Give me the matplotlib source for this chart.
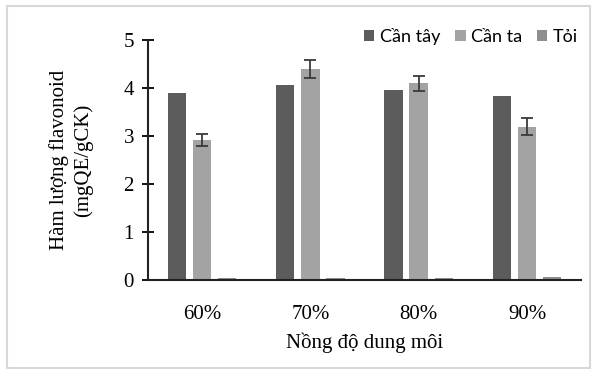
import numpy as np
import matplotlib
matplotlib.use('Agg')
import matplotlib.pyplot as plt
from matplotlib.patches import Rectangle

# data
nong_do = ['60%', '70%', '80%', '90%']
can_tay = [3.90, 4.07, 3.96, 3.83]
can_ta = [2.92, 4.40, 4.10, 3.20]
can_ta_err = [0.12, 0.18, 0.16, 0.17]
toi = [0.04, 0.05, 0.05, 0.07]

serif = ['Liberation Serif', 'DejaVu Serif']
sans = ['Lato', 'DejaVu Sans']

fig = plt.figure(figsize=(6.01, 3.72), dpi=100)
fig.patch.set_facecolor('white')
# light frame round the picture
fig.patches.append(Rectangle((0.012, 0.01), 0.97, 0.975, transform=fig.transFigure,
                             fill=False, edgecolor='#d8d8d8', lw=1.5))

ax = fig.add_axes([0.246, 0.247, 0.721, 0.645])
x = np.arange(len(nong_do))
w = 0.17
step = 0.232

ax.bar(x - step, can_tay, w, color='#5c5c5c', label='Cần tây')
ax.bar(x, can_ta, w, color='#a3a3a3', label='Cần ta',
       yerr=can_ta_err, error_kw=dict(ecolor='#3a3a3a', capsize=4, elinewidth=1.3, capthick=1.3))
ax.bar(x + step, toi, w, color='#8e8e8e', label='Tỏi')

ax.set_ylim(0, 5)
ax.set_xlim(-0.5, 3.5)
ax.set_yticks(range(6))
ax.set_xticks(x)
ax.set_xticklabels(nong_do, fontfamily=serif, fontsize=15)
for t in ax.get_yticklabels():
    t.set_fontfamily(serif)
    t.set_fontsize(15)
ax.tick_params(axis='y', direction='inout', length=8, width=1.3, pad=6)
ax.tick_params(axis='x', length=0, pad=18)

for s in ['top', 'right']:
    ax.spines[s].set_visible(False)
ax.spines['left'].set_linewidth(1.5)
ax.spines['bottom'].set_linewidth(1.5)
ax.spines['left'].set_color('#222222')
ax.spines['bottom'].set_color('#222222')

ax.set_ylabel('Hàm lượng flavonoid\n(mgQE/gCK)', fontfamily=serif, fontsize=15,
              linespacing=1.3, labelpad=22)
ax.set_xlabel('Nồng độ dung môi', fontfamily=serif, fontsize=15, labelpad=6)

ax.legend(loc='upper right', bbox_to_anchor=(1.03, 1.12), ncol=3, frameon=False,
          prop={'family': sans, 'size': 13}, handlelength=0.6, handleheight=0.6,
          handletextpad=0.3, columnspacing=0.8)

plt.savefig('out.png', dpi=100)
